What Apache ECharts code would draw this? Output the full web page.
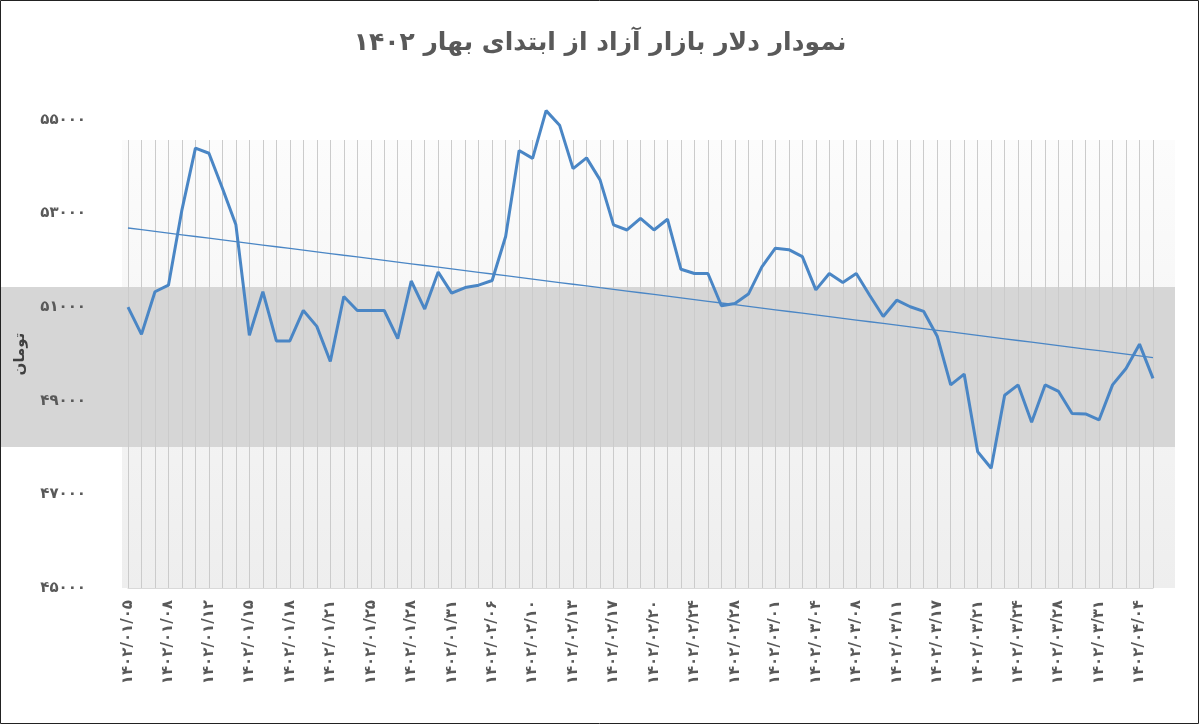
<!DOCTYPE html>
<html>
<head>
<meta charset="utf-8">
<script src="https://cdn.jsdelivr.net/npm/echarts@6/dist/echarts.min.js"></script>
<style>
    html, body { margin: 0; padding: 0; background: #fff; }
    #chart { width: 1200px; height: 725px; }
</style>
</head>
<body>
<div id="chart"></div>
<script>
// Tick labels shown under the axis (every 3rd data point)
const tickLabels = [
    '۱۴۰۲/۰۱/۰۵', '۱۴۰۲/۰۱/۰۸', '۱۴۰۲/۰۱/۱۲', '۱۴۰۲/۰۱/۱۵', '۱۴۰۲/۰۱/۱۸', '۱۴۰۲/۰۱/۲۱',
    '۱۴۰۲/۰۱/۲۵', '۱۴۰۲/۰۱/۲۸', '۱۴۰۲/۰۱/۳۱', '۱۴۰۲/۰۲/۰۶', '۱۴۰۲/۰۲/۱۰', '۱۴۰۲/۰۲/۱۳',
    '۱۴۰۲/۰۲/۱۷', '۱۴۰۲/۰۲/۲۰', '۱۴۰۲/۰۲/۲۴', '۱۴۰۲/۰۲/۲۸', '۱۴۰۲/۰۳/۰۱', '۱۴۰۲/۰۳/۰۴',
    '۱۴۰۲/۰۳/۰۸', '۱۴۰۲/۰۳/۱۱', '۱۴۰۲/۰۳/۱۷', '۱۴۰۲/۰۳/۲۱', '۱۴۰۲/۰۳/۲۴', '۱۴۰۲/۰۳/۲۸',
    '۱۴۰۲/۰۳/۳۱', '۱۴۰۲/۰۴/۰۴'
];

// Free-market dollar price (toman)
const prices = [
    51000, 50420, 51330, 51470, 53080, 54400, 54290, 53540, 52760, 50400,
    51330, 50280, 50280, 50930, 50590, 49840, 51230, 50930, 50930, 50930,
    50330, 51560, 50960, 51750, 51300, 51420, 51470, 51570, 52510, 54350,
    54180, 55200, 54890, 53960, 54190, 53720, 52760, 52650, 52900, 52650,
    52880, 51810, 51720, 51720, 51030, 51080, 51280, 51860, 52260, 52230,
    52080, 51370, 51720, 51530, 51720, 51250, 50800, 51150, 51010, 50910,
    50380, 49340, 49570, 47910, 47560, 49120, 49340, 48540, 49340, 49200,
    48730, 48720, 48590, 49340, 49690, 50210, 49480
];

const faDigits = '۰۱۲۳۴۵۶۷۸۹';
function toFa(n) {
    return String(n).replace(/\d/g, d => faDigits[d]);
}

// category per point; only every 3rd one carries a label
const categories = prices.map((v, i) => (i % 3 === 0 && tickLabels[i / 3]) ? tickLabels[i / 3] : 'p' + i);

// linear trendline (least squares)
const n = prices.length;
let sx = 0, sy = 0, sxy = 0, sxx = 0;
prices.forEach((v, i) => { sx += i; sy += v; sxy += i * v; sxx += i * i; });
const slope = (n * sxy - sx * sy) / (n * sxx - sx * sx);
const intercept = (sy - slope * sx) / n;
const trend = prices.map((v, i) => +(intercept + slope * i).toFixed(1));

const chart = echarts.init(document.getElementById('chart'));
const options = {
    animation: false,
    backgroundColor: '#fff',
    graphic: [
        { type: 'rect', z: -10, shape: { x: 122, y: 140, width: 1053, height: 448 },
          style: { fill: new echarts.graphic.LinearGradient(0, 0, 0, 1, [
              { offset: 0, color: '#fcfcfc' }, { offset: 1, color: '#eeeeee' }]) } },
        { type: 'rect', z: -9, shape: { x: 0, y: 287, width: 1175, height: 160 },
          style: { fill: '#d6d6d6' } },
        // hides the part of the vertical lines above the watermark panel
        { type: 'rect', z: 1, shape: { x: 120, y: 110, width: 1060, height: 30 },
          style: { fill: '#fff' } },
        { type: 'rect', z: 100, shape: { x: 0.5, y: 0.5, width: 1198, height: 723 },
          style: { fill: null, stroke: '#222', lineWidth: 1 } }
    ],
    title: {
        text: 'نمودار دلار بازار آزاد از ابتدای بهار ۱۴۰۲',
        left: 'center',
        top: 26,
        textStyle: { fontFamily: 'DejaVu Sans', fontSize: 25, fontWeight: 'bold', color: '#595959' }
    },
    grid: { left: 128, right: 47, top: 120, bottom: 137 },
    xAxis: {
        type: 'category',
        data: categories,
        boundaryGap: false,
        axisLine: { lineStyle: { color: '#d9d9d9' } },
        axisTick: { show: false },
        splitLine: { show: true, interval: 0, lineStyle: { color: '#cbcbcb', width: 1 } },
        axisLabel: {
            interval: 2,
            rotate: 90,
            margin: 12,
            fontFamily: 'DejaVu Sans',
            fontSize: 15,
            fontWeight: 'bold',
            color: '#595959',
            formatter: v => v.startsWith('p') ? '' : v
        }
    },
    yAxis: {
        type: 'value',
        min: 45000,
        max: 55000,
        interval: 2000,
        name: 'تومان',
        nameLocation: 'middle',
        nameGap: 100,
        nameRotate: 90,
        nameTextStyle: { fontFamily: 'DejaVu Sans', fontSize: 15, fontWeight: 'bold', color: '#404040' },
        axisLine: { show: false },
        axisTick: { show: false },
        splitLine: { show: false },
        axisLabel: {
            margin: 42,
            fontFamily: 'DejaVu Sans',
            fontSize: 15,
            fontWeight: 'bold',
            color: '#595959',
            formatter: v => toFa(v)
        }
    },
    series: [
        {
            name: 'دلار',
            type: 'line',
            data: prices,
            symbol: 'none',
            clip: false,
            lineStyle: { color: '#4a86c5', width: 3 },
            z: 5
        },
        {
            name: 'روند',
            type: 'line',
            data: trend,
            symbol: 'none',
            lineStyle: { color: '#4a86c5', width: 1.3 },
            z: 4
        }
    ]
};
chart.setOption(options);
</script>
</body>
</html>
